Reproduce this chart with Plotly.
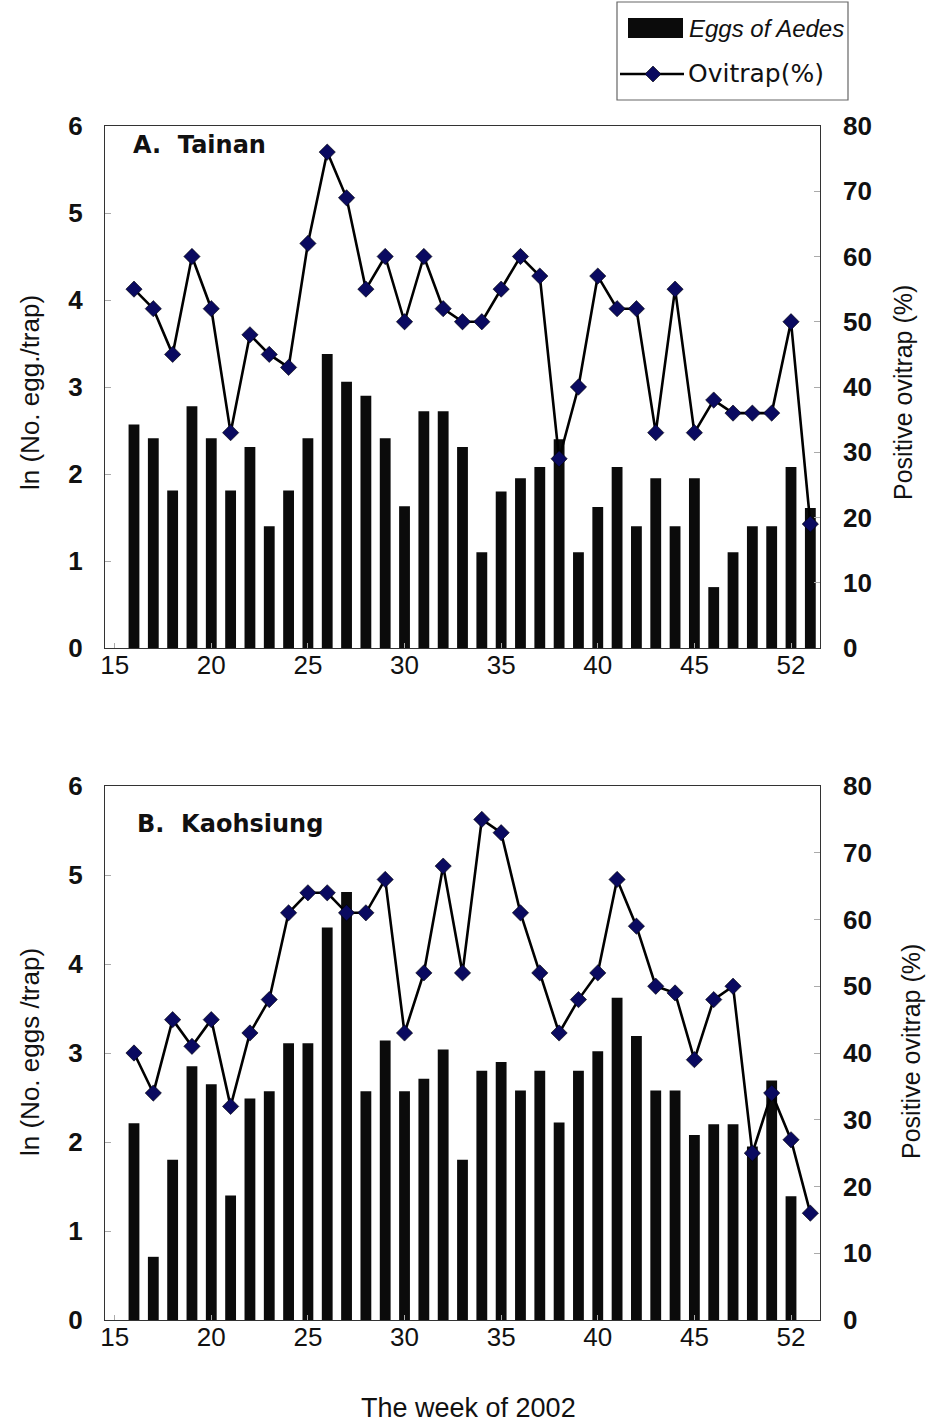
import plotly.graph_objects as go

# ---------------- data ----------------
weeks = list(range(16, 52))

tainan_eggs = [2.57, 2.41, 1.81, 2.78, 2.41, 1.81, 2.31, 1.40, 1.81, 2.41, 3.38, 3.06,
               2.90, 2.41, 1.63, 2.72, 2.72, 2.31, 1.10, 1.80, 1.95, 2.08, 2.40, 1.10,
               1.62, 2.08, 1.40, 1.95, 1.40, 1.95, 0.70, 1.10, 1.40, 1.40, 2.08, 1.61]
tainan_ovi = [55, 52, 45, 60, 52, 33, 48, 45, 43, 62, 76, 69,
              55, 60, 50, 60, 52, 50, 50, 55, 60, 57, 29, 40,
              57, 52, 52, 33, 55, 33, 38, 36, 36, 36, 50, 19]

kaoh_eggs = [2.21, 0.71, 1.80, 2.85, 2.65, 1.40, 2.49, 2.57, 3.11, 3.11, 4.41, 4.81,
             2.57, 3.14, 2.57, 2.71, 3.04, 1.80, 2.80, 2.90, 2.58, 2.80, 2.22, 2.80,
             3.02, 3.62, 3.19, 2.58, 2.58, 2.08, 2.20, 2.20, 1.95, 2.69, 1.39, None]
kaoh_ovi = [40, 34, 45, 41, 45, 32, 43, 48, 61, 64, 64, 61,
            61, 66, 43, 52, 68, 52, 75, 73, 61, 52, 43, 48,
            52, 66, 59, 50, 49, 39, 48, 50, 25, 34, 27, 16]

x_tickvals = [15, 20, 25, 30, 35, 40, 45, 50]
x_ticktext = ["15", "20", "25", "30", "35", "40", "45", "52"]

legend_bar_label = "Eggs of Aedes"
legend_line_label = "Ovitrap(%)"

# ---------------- geometry ----------------
W, H = 931, 1425
L, R, T, B = 105, 111, 126, 105
pw = W - L - R
ph = H - T - B

def px(xp):
    return (xp - L) / pw

def py(yp):
    return 1 - (yp - T) / ph

domA = [py(648), py(126)]
domB = [py(1320), py(786)]

FONT = "Liberation Sans, Arial, sans-serif"
GOTHIC = "DejaVu Sans, Verdana, sans-serif"
TXT = "#111111"
bar_color = "#0b0b0b"
mk_color = "#0a0a60"

fig = go.Figure()

line_style = dict(color="#000000", width=2.6)
marker_style = dict(symbol="diamond", size=12.5, color=mk_color,
                    line=dict(color="#000000", width=0.6))

fig.add_trace(go.Bar(x=weeks, y=tainan_eggs, width=0.56, marker_color=bar_color,
                     marker_line_width=0, xaxis="x", yaxis="y"))
fig.add_trace(go.Scatter(x=weeks, y=tainan_ovi, mode="lines+markers",
                         line=line_style, marker=marker_style, xaxis="x", yaxis="y2"))
fig.add_trace(go.Bar(x=weeks, y=kaoh_eggs, width=0.56, marker_color=bar_color,
                     marker_line_width=0, xaxis="x2", yaxis="y3"))
fig.add_trace(go.Scatter(x=weeks, y=kaoh_ovi, mode="lines+markers",
                         line=line_style, marker=marker_style, xaxis="x2", yaxis="y4"))

ytickfont = dict(family=FONT, size=26, color=TXT, weight="bold")
xtickfont = dict(family=FONT, size=26, color=TXT)

def xaxis(anchor):
    return dict(range=[14.5, 51.5], tickvals=x_tickvals, ticktext=x_ticktext,
                ticks="inside", ticklen=5, tickcolor="#aaaaaa",
                showline=True, linecolor="#333333", linewidth=1.2, mirror=True,
                showgrid=False, zeroline=False, tickfont=xtickfont,
                anchor=anchor, domain=[0, 1], ticklabelstandoff=-6)

def yleft(domain, anchor):
    return dict(range=[0, 6], dtick=1, domain=domain, anchor=anchor,
                ticks="inside", ticklen=6, tickcolor="#aaaaaa",
                showline=True, linecolor="#333333", linewidth=1.2, mirror=True,
                showgrid=False, zeroline=False, tickfont=ytickfont,
                ticklabelstandoff=16)

def yright(overlay, anchor):
    return dict(range=[0, 80], dtick=10, overlaying=overlay, side="right",
                anchor=anchor, ticks="inside", ticklen=6, tickcolor="#aaaaaa",
                showline=False, showgrid=False, zeroline=False, tickfont=ytickfont,
                ticklabelstandoff=22)

fig.update_layout(
    width=W, height=H,
    margin=dict(l=L, r=R, t=T, b=B, autoexpand=False),
    paper_bgcolor="white", plot_bgcolor="white",
    font=dict(family=FONT, color=TXT),
    xaxis=xaxis("y"),
    xaxis2=xaxis("y3"),
    yaxis=yleft(domA, "x"),
    yaxis2=yright("y", "x"),
    yaxis3=yleft(domB, "x2"),
    yaxis4=yright("y3", "x2"),
    showlegend=False,
    hovermode=False,
)

# ---------------- hand-drawn legend box ----------------
shapes = [
    dict(type="rect", xref="paper", yref="paper", x0=px(617), x1=px(848), y0=py(100), y1=py(2),
         line=dict(color="#666666", width=1.2), fillcolor="white", layer="above"),
    dict(type="rect", xref="paper", yref="paper", x0=px(628), x1=px(683), y0=py(38), y1=py(18),
         line=dict(width=0), fillcolor=bar_color, layer="above"),
    dict(type="line", xref="paper", yref="paper", x0=px(620), x1=px(684), y0=py(74), y1=py(74),
         line=dict(color="#000000", width=2.6), layer="above"),
    dict(type="path", xref="paper", yref="paper", layer="above",
         path=f"M {px(645)},{py(74)} L {px(653)},{py(66)} L {px(661)},{py(74)} L {px(653)},{py(82)} Z",
         fillcolor=mk_color, line=dict(color="#000000", width=0.6)),
]
fig.update_layout(shapes=shapes)

annotations = [
    dict(text=f"<i>{legend_bar_label}</i>", xref="paper", yref="paper", x=px(687), y=py(28),
         xanchor="left", yanchor="middle", showarrow=False,
         font=dict(family=FONT, size=24, color=TXT)),
    dict(text=legend_line_label, xref="paper", yref="paper", x=px(686), y=py(74),
         xanchor="left", yanchor="middle", showarrow=False,
         font=dict(family=GOTHIC, size=25, color=TXT)),
    dict(text="<b>A.  Tainan</b>", xref="paper", yref="paper", x=px(131), y=py(145),
         xanchor="left", yanchor="middle", showarrow=False,
         font=dict(family=GOTHIC, size=24, color=TXT)),
    dict(text="<b>B.  Kaohsiung</b>", xref="paper", yref="paper", x=px(135), y=py(824),
         xanchor="left", yanchor="middle", showarrow=False,
         font=dict(family=GOTHIC, size=24, color=TXT)),
    dict(text="ln (No. egg./trap)", xref="paper", yref="paper",
         x=px(30), y=py(393), textangle=-90,
         xanchor="center", yanchor="middle", showarrow=False,
         font=dict(family=FONT, size=26, color=TXT)),
    dict(text="Positive ovitrap (%)", xref="paper", yref="paper",
         x=px(903), y=py(392), textangle=-90,
         xanchor="center", yanchor="middle", showarrow=False,
         font=dict(family=FONT, size=25, color=TXT)),
    dict(text="ln (No. eggs /trap)", xref="paper", yref="paper",
         x=px(30), y=py(1052), textangle=-90,
         xanchor="center", yanchor="middle", showarrow=False,
         font=dict(family=FONT, size=26, color=TXT)),
    dict(text="Positive ovitrap (%)", xref="paper", yref="paper",
         x=px(911), y=py(1052), textangle=-90,
         xanchor="center", yanchor="middle", showarrow=False,
         font=dict(family=FONT, size=25, color=TXT)),
    dict(text="The week of 2002", xref="paper", yref="paper",
         x=px(469), y=py(1408),
         xanchor="center", yanchor="middle", showarrow=False,
         font=dict(family=FONT, size=27, color=TXT)),
]
fig.update_layout(annotations=annotations)

fig.write_html("out.html", config={"displayModeBar": False, "staticPlot": True},
               post_script="document.body.style.margin='0';")
